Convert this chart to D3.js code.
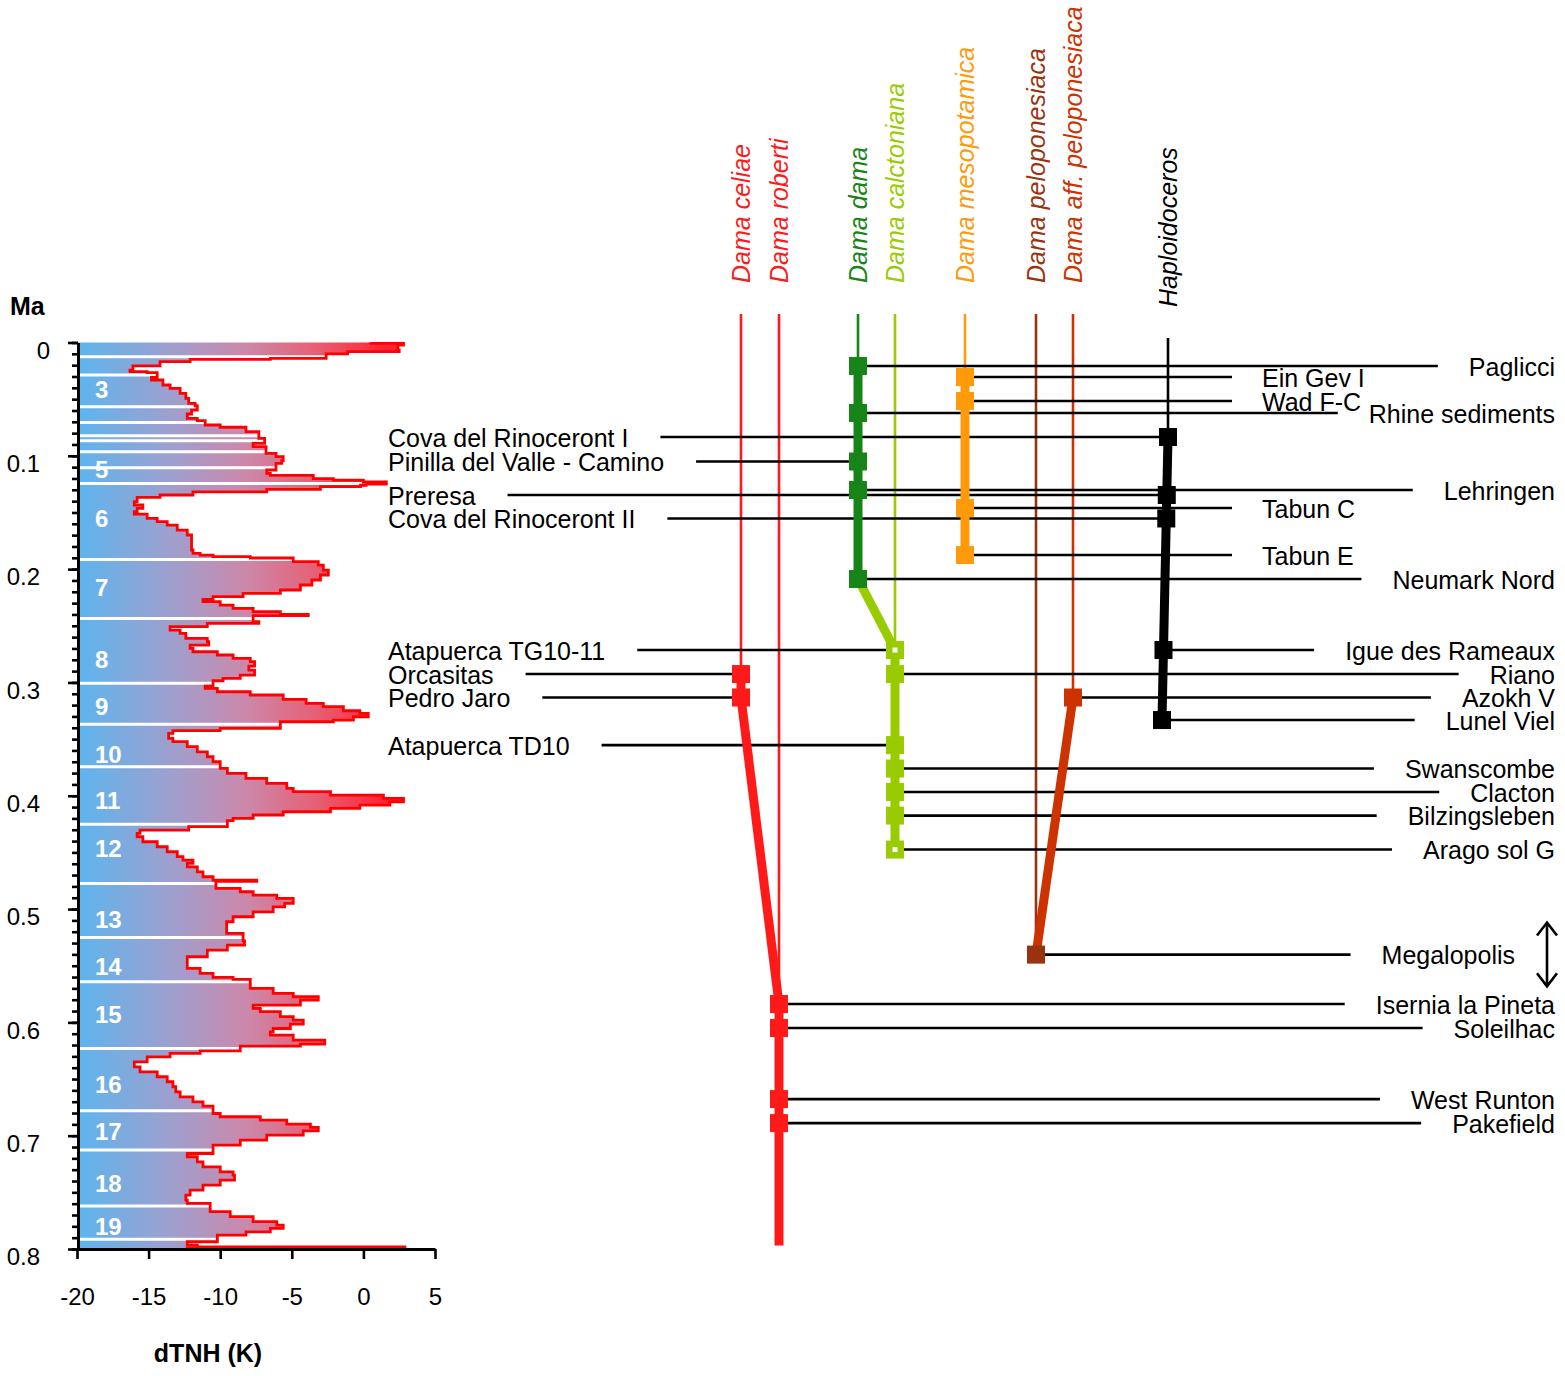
<!DOCTYPE html>
<html><head><meta charset="utf-8">
<script src="https://cdn.jsdelivr.net/npm/d3@7"></script>
<style>
body{margin:0;background:#fff}
svg{display:block;font-family:"Liberation Sans",Arial,Helvetica,sans-serif}
</style>
</head><body>
<svg id="c" width="1565" height="1376"></svg>
<script>
// ---------------- DATA ----------------
// dTNH climate curve (age in Ma, temperature anomaly in K)
const climateAge = [0,0.0008,0.0022,0.0066,0.0081,0.0101,0.0140,0.0149,0.0169,0.0207,0.0243,0.0257,0.0266,0.0307,0.0331,0.0375,0.0405,0.0449,0.0493,0.0537,0.0558,0.0596,0.0631,0.0669,0.0690,0.0728,0.0748,0.0787,0.0846,0.0890,0.0919,0.0978,0.1008,0.1043,0.1067,0.1125,0.1155,0.1172,0.1202,0.1214,0.1231,0.1249,0.1260,0.1272,0.1296,0.1319,0.1346,0.1366,0.1405,0.1434,0.1464,0.1493,0.1514,0.1552,0.1581,0.1611,0.1655,0.1699,0.1773,0.1831,0.1861,0.1876,0.1890,0.1902,0.1934,0.1964,0.2008,0.2052,0.2096,0.2140,0.2184,0.2214,0.2243,0.2267,0.2287,0.2317,0.2346,0.2376,0.2399,0.2410,0.2464,0.2479,0.2508,0.2538,0.2567,0.2611,0.2641,0.2670,0.2700,0.2729,0.2758,0.2788,0.2817,0.2856,0.2891,0.2935,0.2964,0.2985,0.3032,0.3052,0.3082,0.3111,0.3150,0.3185,0.3214,0.3250,0.3273,0.3303,0.3332,0.3347,0.3406,0.3426,0.3450,0.3494,0.3523,0.3567,0.3612,0.3656,0.3700,0.3759,0.3803,0.3847,0.3891,0.3935,0.3964,0.3994,0.4023,0.4053,0.4082,0.4112,0.4141,0.4170,0.4200,0.4220,0.4273,0.4303,0.4332,0.4362,0.4406,0.4450,0.4494,0.4538,0.4568,0.4597,0.4627,0.4671,0.4715,0.4745,0.4755,0.4818,0.4847,0.4877,0.4906,0.4950,0.4980,0.5024,0.5068,0.5112,0.5156,0.5215,0.5280,0.5318,0.5362,0.5421,0.5480,0.5524,0.5568,0.5603,0.5621,0.5700,0.5744,0.5774,0.5803,0.5847,0.5877,0.5906,0.5950,0.5980,0.6015,0.6054,0.6083,0.6112,0.6157,0.6192,0.6210,0.6251,0.6274,0.6304,0.6348,0.6392,0.6436,0.6480,0.6524,0.6568,0.6613,0.6657,0.6701,0.6739,0.6804,0.6833,0.6862,0.6898,0.6927,0.6957,0.6995,0.7039,0.7083,0.7157,0.7186,0.7231,0.7275,0.7319,0.7348,0.7392,0.7436,0.7480,0.7524,0.7569,0.7598,0.7671,0.7715,0.7759,0.7789,0.7818,0.7848,0.7877,0.7936,0.7966,0.7982,0.7992,0.8000];
const climateT = [0.5,2.8,2.4,2.5,-1.1,-2.6,-6.5,-12.1,-14.2,-16.1,-16.3,-15.1,-14.4,-14.8,-14.0,-13.5,-12.8,-12.4,-12.2,-11.75,-11.6,-12.0,-12.3,-11.6,-11.05,-10.0,-8.2,-7.3,-6.9,-7.7,-6.8,-6.1,-5.6,-5.7,-6.1,-6.75,-6.5,-3.5,-2.1,0.0,1.6,0.2,-0.2,-3.0,-6.75,-11.9,-14.2,-15.8,-16.0,-15.4,-15.8,-16.0,-15.1,-14.4,-13.7,-13.0,-12.3,-12.0,-12.0,-11.9,-11.4,-10.5,-7.9,-4.9,-3.15,-2.8,-2.45,-3.0,-3.6,-4.4,-5.8,-8.4,-10.5,-11.2,-10.0,-9.1,-7.7,-5.8,-3.85,-7.7,-7.3,-10.9,-13.5,-12.8,-12.4,-10.9,-10.8,-12.1,-11.9,-10.2,-9.1,-7.9,-7.6,-8.0,-7.6,-8.6,-9.8,-10.5,-11.05,-10.2,-7.9,-5.6,-4.0,-2.8,-1.4,-0.25,0.34,-0.7,-2.1,-5.8,-10.0,-13.3,-13.6,-13.3,-12.3,-11.6,-10.9,-10.5,-10.0,-9.5,-8.2,-6.75,-5.35,-4.9,-2.3,1.4,2.8,1.85,-0.25,-2.3,-5.6,-7.7,-9.1,-9.5,-12.2,-15.6,-15.8,-15.4,-14.4,-13.7,-13.0,-12.6,-11.9,-12.3,-11.6,-11.2,-10.5,-7.45,-10.3,-8.6,-7.7,-6.05,-4.9,-5.5,-6.3,-7.7,-9.1,-9.55,-9.55,-8.4,-8.3,-9.5,-10.9,-12.3,-12.3,-11.4,-10.5,-9.1,-7.9,-6.3,-4.9,-3.15,-4.4,-7.7,-7.2,-5.8,-4.9,-4.2,-5.1,-6.3,-6.5,-4.9,-2.7,-4.4,-8.6,-11.4,-13.5,-15.1,-16.0,-15.6,-14.4,-13.7,-13.3,-13.1,-12.8,-11.9,-11.2,-10.5,-10.0,-7.2,-5.35,-3.7,-3.15,-4.2,-6.75,-8.6,-10.5,-12.3,-11.6,-11.2,-10.0,-9.1,-9.0,-10.0,-11.2,-12.1,-12.4,-12.3,-10.7,-9.3,-7.7,-6.05,-5.6,-6.5,-8.2,-10.2,-12.3,-11.6,2.9,-12.3,-12.3];

// marine isotope stage boundaries (Ma) and stage labels
const misBoundaries = [0.0125,0.0287,0.0566,0.0707,0.0822,0.0866,0.0965,0.1105,0.1245,0.1914,0.2436,0.3008,0.3368,0.3745,0.4251,0.4774,0.5250,0.5641,0.6230,0.6780,0.7127,0.7620,0.7913];
const misLabels   = ["3","5","6","7","8","9","10","11","12","13","14","15","16","17","18","19"];
const misLabelAge = [0.042,0.1125,0.155,0.2167,0.2802,0.3217,0.3637,0.4047,0.447,0.509,0.5504,0.5927,0.6553,0.696,0.7419,0.7798];

// axis ticks
const yTicks = [0,0.1,0.2,0.3,0.4,0.5,0.6,0.7,0.8];
const yMinorTicks = d3.range(0, 81).map(d => d / 100);
const xTicks = [-20,-15,-10,-5,0,5];

// taxa
const species = ["Dama celiae","Dama roberti","Dama dama","Dama calctoniana","Dama mesopotamica","Dama peloponesiaca","Dama aff. peloponesiaca","Haploidoceros"];
const speciesColor = ["#ff1a1a","#ff1a1a","#168416","#99cc00","#ff9a0a","#99330f","#cc3300","#000000"];

// sites: name, age (Ma), label side, taxa recorded
const siteNames = ["Paglicci","Ein Gev I","Wad F-C","Rhine sediments","Cova del Rinoceront I","Pinilla del Valle - Camino","Lehringen","Preresa","Tabun C","Cova del Rinoceront II","Tabun E","Neumark Nord","Atapuerca TG10-11","Igue des Rameaux","Orcasitas","Riano","Pedro Jaro","Azokh V","Lunel Viel","Atapuerca TD10","Swanscombe","Clacton","Bilzingsleben","Arago sol G","Megalopolis","Isernia la Pineta","Soleilhac","West Runton","Pakefield"];
const siteAges  = [0.0207,0.0305,0.0516,0.0622,0.0834,0.1050,0.1302,0.1346,0.1461,0.1553,0.1876,0.2087,0.2714,0.2714,0.2926,0.2926,0.3133,0.3133,0.3332,0.3553,0.3760,0.3967,0.4175,0.4475,0.5402,0.5838,0.6050,0.6677,0.6889];
const siteSide  = ["R","M","M","R","L","L","R","L","M","L","M","R","L","R","L","R","L","R","R","L","R","R","R","R","R","R","R","R","R"];
const siteTaxa  = [["Dama dama"],["Dama mesopotamica"],["Dama mesopotamica"],["Dama dama"],["Haploidoceros"],["Dama dama"],["Dama dama"],["Haploidoceros"],["Dama mesopotamica"],["Haploidoceros"],["Dama mesopotamica"],["Dama dama"],["Dama calctoniana"],["Haploidoceros"],["Dama celiae"],["Dama calctoniana"],["Dama celiae"],["Dama aff. peloponesiaca"],["Haploidoceros"],["Dama calctoniana"],["Dama calctoniana"],["Dama calctoniana"],["Dama calctoniana"],["Dama calctoniana"],["Dama peloponesiaca"],["Dama roberti"],["Dama roberti"],["Dama roberti"],["Dama roberti"]];
const openRecords = ["Atapuerca TG10-11","Arago sol G"];

// lineage links: [from taxon, from site, to taxon, to site, colour taxon]
const lineageLinks = [
  ["Dama dama","Neumark Nord","Dama calctoniana","Atapuerca TG10-11","Dama calctoniana"],
  ["Dama celiae","Pedro Jaro","Dama roberti","Isernia la Pineta","Dama roberti"],
  ["Dama aff. peloponesiaca","Azokh V","Dama peloponesiaca","Megalopolis","Dama aff. peloponesiaca"]
];
const rangeExtension = [["Dama roberti",0.797]];
const ageUncertainty = [["Megalopolis",0.511,0.569]];

// ---------------- DRAW ----------------
const svg = d3.select("#c");
const FONT = '"Liberation Sans", Arial, Helvetica, sans-serif';
svg.append("rect").attr("width",1565).attr("height",1376).attr("fill","#fff");

const ys = d3.scaleLinear().domain([0,0.8]).range([342.5,1249]);
const xs = d3.scaleLinear().domain([-20,5]).range([77,435]);
const cx = d3.scaleOrdinal().domain(species).range([741,779,858,895,965,1036,1073,1168]);
const col = d3.scaleOrdinal().domain(species).range(speciesColor);
// slight drawing lean of a column (px per Ma, from its youngest record)
const lean = new Map([["Haploidoceros",-24]]);

// gradient
const grad = svg.append("defs").append("linearGradient").attr("id","tg")
  .attr("gradientUnits","userSpaceOnUse")
  .attr("x1",xs(-20)).attr("x2",xs(1.5)).attr("y1",0).attr("y2",0);
[[0,"#5cb5ee"],[0.3,"#9da0cf"],[0.55,"#cc88aa"],[0.78,"#e65f74"],[1,"#ff2430"]]
  .forEach(s => grad.append("stop").attr("offset",s[0]).attr("stop-color",s[1]));

const pts = climateAge.map((a,i) => ({a, t: climateT[i]}));
const area = d3.area().curve(d3.curveStepBefore)
  .y(d => ys(d.a)).x0(xs(-20)).x1(d => xs(d.t));
svg.append("path").attr("d", area(pts)).attr("fill","url(#tg)");

const valueAt = b => climateT[Math.max(0, d3.bisectRight(climateAge, b) - 1)];
svg.append("g").selectAll("line").data(misBoundaries).join("line")
  .attr("x1", xs(-20)+1).attr("x2", d => xs(valueAt(d)))
  .attr("y1", d => ys(d)).attr("y2", d => ys(d))
  .attr("stroke","#fff").attr("stroke-width",3);

const line = d3.line().curve(d3.curveStepBefore).x(d => xs(d.t)).y(d => ys(d.a));
svg.append("path").attr("d", line(pts)).attr("fill","none")
  .attr("stroke","#ff0000").attr("stroke-width",2.8);

svg.append("g").selectAll("text").data(misLabels).join("text")
  .attr("x",95).attr("y",(d,i) => ys(misLabelAge[i])).attr("dy","0.35em")
  .attr("fill","#fff").attr("font-weight","bold").attr("font-size",24)
  .text(d => d);

// axes
const gyMinor = svg.append("g").attr("transform","translate(78,0)")
  .call(d3.axisLeft(ys).tickValues(yMinorTicks).tickSize(6).tickSizeOuter(0).tickFormat(""));
gyMinor.select(".domain").remove();
gyMinor.selectAll("line").attr("stroke-width",2.6);

const gy = svg.append("g").attr("transform","translate(78,0)")
  .call(d3.axisLeft(ys).tickValues(yTicks).tickSize(10).tickSizeOuter(0).tickPadding(28)
    .tickFormat(d => d === 0 ? "0" : d3.format(".1f")(d)));
gy.select(".domain").attr("stroke-width",3);
gy.selectAll(".tick line").attr("stroke-width",2.6);
gy.selectAll("text").attr("font-size",24).attr("font-family",FONT).attr("fill","#000")
  .attr("y",8).attr("x", d => d === 0 ? -28 : -38);

const gx = svg.append("g").attr("transform","translate(0,1249)")
  .call(d3.axisBottom(xs).tickValues(xTicks).tickSize(10).tickSizeOuter(0).tickPadding(29)
    .tickFormat(d => String(d)));
gx.select(".domain").attr("stroke-width",3);
gx.selectAll(".tick line").attr("stroke-width",2.6);
gx.selectAll("text").attr("font-size",24).attr("font-family",FONT).attr("fill","#000");

svg.append("text").attr("x",10).attr("y",306).attr("dy","0.35em")
  .attr("font-weight","bold").attr("font-size",25).text("Ma");
svg.append("text").attr("x",208).attr("y",1353).attr("dy","0.35em").attr("text-anchor","middle")
  .attr("font-weight","bold").attr("font-size",25).text("dTNH (K)");

// ---- taxa panel ----
const ageOf = new Map(siteNames.map((n,i) => [n, siteAges[i]]));
const recs = [];
siteNames.forEach((n,i) => siteTaxa[i].forEach(sp =>
  recs.push({site:n, sp, age:siteAges[i], open: openRecords.includes(n)})));
const ext = new Map(rangeExtension);
const range = species.map(sp => {
  const a = recs.filter(r => r.sp === sp).map(r => r.age);
  return {sp, young: d3.min(a), old: Math.max(d3.max(a), ext.get(sp) || 0)};
});
const youngOf = new Map(range.map(r => [r.sp, r.young]));
const sx = (sp, age) => cx(sp) + (lean.get(sp) || 0) * Math.max(0, age - youngOf.get(sp));
const labelBase = sp => sp.startsWith("Dama") ? 283 : 307;

const gThin = svg.append("g"), gSite = svg.append("g"), gThick = svg.append("g"),
      gSq = svg.append("g"), gLab = svg.append("g");

// thin lines
range.forEach(r => gThin.append("line")
  .attr("x1",cx(r.sp)).attr("x2",cx(r.sp))
  .attr("y1",labelBase(r.sp)+31).attr("y2",ys(r.young))
  .attr("stroke",col(r.sp)).attr("stroke-width",2.6));

// species labels
species.forEach(sp => gLab.append("text")
  .attr("transform",`translate(${cx(sp)},${labelBase(sp)}) rotate(-90)`)
  .attr("dy","0.35em").attr("font-style","italic").attr("font-size",25)
  .attr("fill",col(sp)).text(sp));

// site labels + lines
const unc = new Map(ageUncertainty.map(d => [d[0], [d[1], d[2]]]));
siteNames.forEach((n,i) => {
  const y = ys(siteAges[i]);
  const side = siteSide[i];
  const tx = siteTaxa[i].map(sp => sx(sp, siteAges[i]));
  const t = gLab.append("text").attr("y", y+1).attr("dy","0.35em")
    .attr("font-size",25).attr("fill","#000").text(n);
  let x1, x2;
  if (side === "L") {
    t.attr("x",388);
    x1 = 388 + t.node().getComputedTextLength() + 32; x2 = d3.max(tx);
  } else if (side === "M") {
    t.attr("x",1262);
    x1 = d3.min(tx); x2 = 1232;
  } else {
    const right = unc.has(n) ? 1515 : 1555;
    t.attr("x",right).attr("text-anchor","end");
    x1 = d3.min(tx); x2 = right - t.node().getComputedTextLength() - 31;
  }
  gSite.append("line").attr("x1",x1).attr("x2",x2).attr("y1",y).attr("y2",y)
    .attr("stroke","#000").attr("stroke-width",2.6);
  if (unc.has(n)) {
    const [a0,a1] = unc.get(n), ax = 1547, y0 = ys(a0), y1 = ys(a1);
    gLab.append("path").attr("fill","none").attr("stroke","#000").attr("stroke-width",2.6)
      .attr("d",`M${ax},${y0+1}L${ax},${y1-1}M${ax-10},${y0+14}L${ax},${y0+1}L${ax+10},${y0+14}M${ax-10},${y1-14}L${ax},${y1-1}L${ax+10},${y1-14}`);
  }
});

// thick ranges
range.filter(r => r.old > r.young).forEach(r => gThick.append("line")
  .attr("x1",sx(r.sp,r.young)).attr("x2",sx(r.sp,r.old)).attr("y1",ys(r.young)).attr("y2",ys(r.old))
  .attr("stroke",col(r.sp)).attr("stroke-width",9));
// lineage links
lineageLinks.forEach(l => gThick.append("line")
  .attr("x1",sx(l[0],ageOf.get(l[1]))).attr("y1",ys(ageOf.get(l[1])))
  .attr("x2",sx(l[2],ageOf.get(l[3]))).attr("y2",ys(ageOf.get(l[3])))
  .attr("stroke",col(l[4])).attr("stroke-width",9));

// squares
const S = 18;
recs.forEach(r => {
  const x = sx(r.sp, r.age);
  gSq.append("rect").attr("x",x-S/2).attr("y",ys(r.age)-S/2)
    .attr("width",S).attr("height",S).attr("fill",col(r.sp));
  if (r.open) gSq.append("rect").attr("x",x-2.5).attr("y",ys(r.age)-2.5)
    .attr("width",5).attr("height",5).attr("fill","#fff");
});
</script>
</body></html>
